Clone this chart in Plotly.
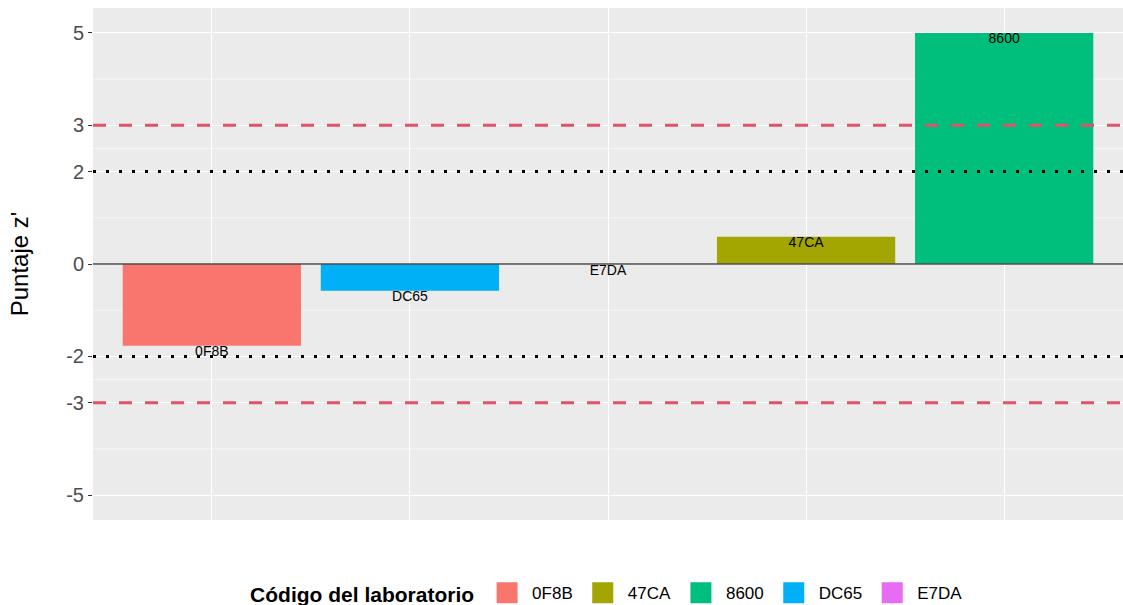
import plotly.graph_objects as go

# ---- data ----
labs = ["0F8B", "47CA", "8600", "DC65", "E7DA"]           # legend order
zscores = [-1.77, 0.59, 5.0, -0.58, 0.0]
colors = ["#F8766D", "#A3A500", "#00BF7D", "#00B0F6", "#E76BF3"]
y_ticks = [-5, -3, -2, 0, 2, 3, 5]
y_minor = [-4, -2.5, -1, 1, 2.5, 4]
warning_limits = [2, -2]
action_limits = [3, -3]

order = [l for _, l in sorted(zip(zscores, labs))]

FONT = "Liberation Sans, Arial"

fig = go.Figure()
for lab, z, c in zip(labs, zscores, colors):
    fig.add_trace(go.Bar(x=[lab], y=[z], name=lab, marker=dict(color=c, line=dict(width=0)),
                         width=0.9, showlegend=False, legendgroup=lab))
    # legend-only key with a larger square
    fig.add_trace(go.Scatter(x=[None], y=[None], mode="markers", name=lab, legendgroup=lab,
                             marker=dict(symbol="square", size=16, color=c,
                                         line=dict(color=c, width=5)),
                             showlegend=True, hoverinfo="skip"))
fig.add_trace(go.Scatter(x=labs, y=zscores, mode="text", text=labs,
                         textposition="bottom center",
                         textfont=dict(family=FONT, size=14, color="black"),
                         showlegend=False, hoverinfo="skip"))

shapes = []
for v in y_minor:
    shapes.append(dict(type="line", xref="paper", yref="y", x0=0, x1=1, y0=v, y1=v,
                       line=dict(color="white", width=0.6), layer="below"))
shapes.append(dict(type="line", xref="paper", yref="y", x0=0, x1=1, y0=0, y1=0,
                   line=dict(color="#4D4D4D", width=1.3)))
for v in action_limits:
    shapes.append(dict(type="line", xref="paper", yref="y", x0=0, x1=1, y0=v, y1=v,
                       line=dict(color="#DF536B", width=3, dash="13px,13px")))
for v in warning_limits:
    shapes.append(dict(type="line", xref="paper", yref="y", x0=0, x1=1, y0=v, y1=v,
                       line=dict(color="black", width=3, dash="3px,10px")))

fig.update_layout(
    width=1123, height=605, autosize=False,
    margin=dict(l=93, r=0, t=8, b=85),
    paper_bgcolor="white", plot_bgcolor="#EBEBEB",
    barmode="overlay", bargap=0.1,
    font=dict(family=FONT, color="#4D4D4D"),
    shapes=shapes,
    legend=dict(orientation="h", x=0.5415, xanchor="center", xref="container",
                y=0.018, yanchor="middle", yref="container",
                title=dict(text="<b>Código del laboratorio</b>", side="left",
                           font=dict(size=21, color="black")),
                font=dict(size=17, color="black"), traceorder="normal",
                itemsizing="trace", itemwidth=40),
    xaxis=dict(categoryorder="array", categoryarray=order, range=[-0.6, 4.6],
               showticklabels=False, ticks="", showgrid=True, gridcolor="white",
               gridwidth=1.3, zeroline=False, title=None),
    yaxis=dict(range=[-5.54, 5.54], tickvals=y_ticks, ticktext=[str(t) for t in y_ticks],
               showgrid=True, gridcolor="white", gridwidth=1.3, zeroline=False,
               ticks="outside", ticklen=4, tickcolor="#333333", tickwidth=1,
               tickfont=dict(size=20, color="#4D4D4D"),
               title=dict(text="Puntaje z'", font=dict(size=24, color="black"), standoff=30)),
)

post = ("document.documentElement.style.margin='0';"
        "document.body.style.margin='0';document.body.style.padding='0';"
        "document.body.style.overflow='hidden';"
        "var gd=document.getElementById('{plot_id}');"
        "gd.style.width='1123px';gd.style.height='605px';"
        "Plotly.relayout(gd,{autosize:false,width:1123,height:605});")

fig.write_html("out.html", post_script=post, config={"displayModeBar": False})
